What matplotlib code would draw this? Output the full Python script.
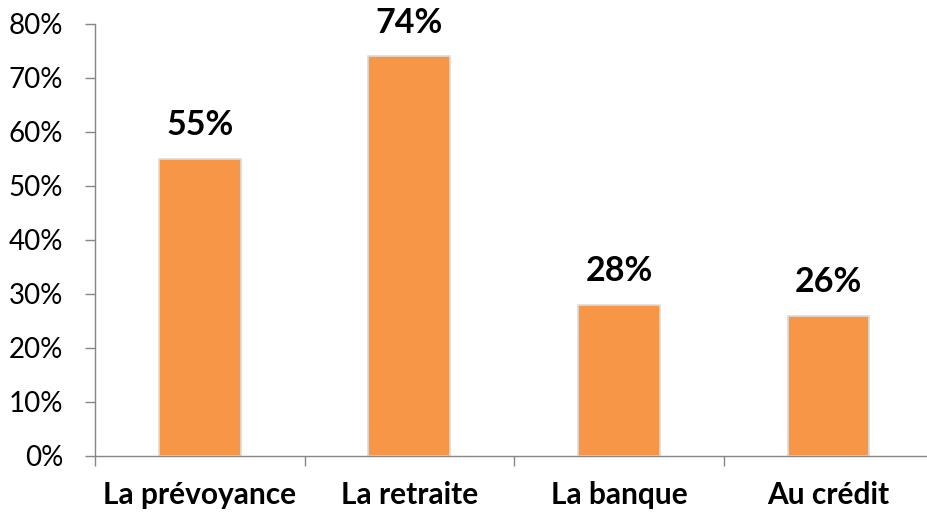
import numpy as np
import matplotlib
matplotlib.use('Agg')
import matplotlib.pyplot as plt
from matplotlib.ticker import FuncFormatter

# survey results, share of respondents
categories = ['La prévoyance', 'La retraite', 'La banque', 'Au crédit']
values = [55, 74, 28, 26]
bar_labels = ['55%', '74%', '28%', '26%']

plt.rcParams['font.family'] = ['Lato', 'DejaVu Sans']

fig = plt.figure(figsize=(9.27, 5.14), dpi=100)
ax = fig.add_axes([95 / 927, 58 / 514, 832 / 927, 432 / 514])

x = np.arange(len(categories))
bars = ax.bar(x, values, width=0.39, color='#F79646', edgecolor='#dcdcdc', linewidth=1.2, zorder=2)

for rect, lab in zip(bars, bar_labels):
    ax.annotate(lab, (rect.get_x() + rect.get_width() / 2, rect.get_height()),
                xytext=(0, 17), textcoords='offset points',
                ha='center', va='baseline', fontsize=24.5, fontweight='bold')

ax.set_xlim(-0.5, 3.47)
ax.set_ylim(0, 80)
ax.set_yticks(np.arange(0, 81, 10))
ax.yaxis.set_major_formatter(FuncFormatter(lambda v, p: '{:.0f}%'.format(v)))

ax.set_xticks(x)
ax.set_xticklabels(categories, fontsize=21.5, fontweight='bold')
ax.set_xticks([-0.5, 0.5, 1.5, 2.5], minor=True)
ax.tick_params(axis='x', which='major', length=0, pad=18)
ax.tick_params(axis='x', which='minor', length=7, width=1, color='#868686')
ax.tick_params(axis='y', length=7, width=1, color='#868686', labelsize=20, pad=16)

for s in ['top', 'right']:
    ax.spines[s].set_visible(False)
for s in ['left', 'bottom']:
    ax.spines[s].set_color('#868686')
    ax.spines[s].set_linewidth(1)

fig.savefig('out.png', dpi=100)
